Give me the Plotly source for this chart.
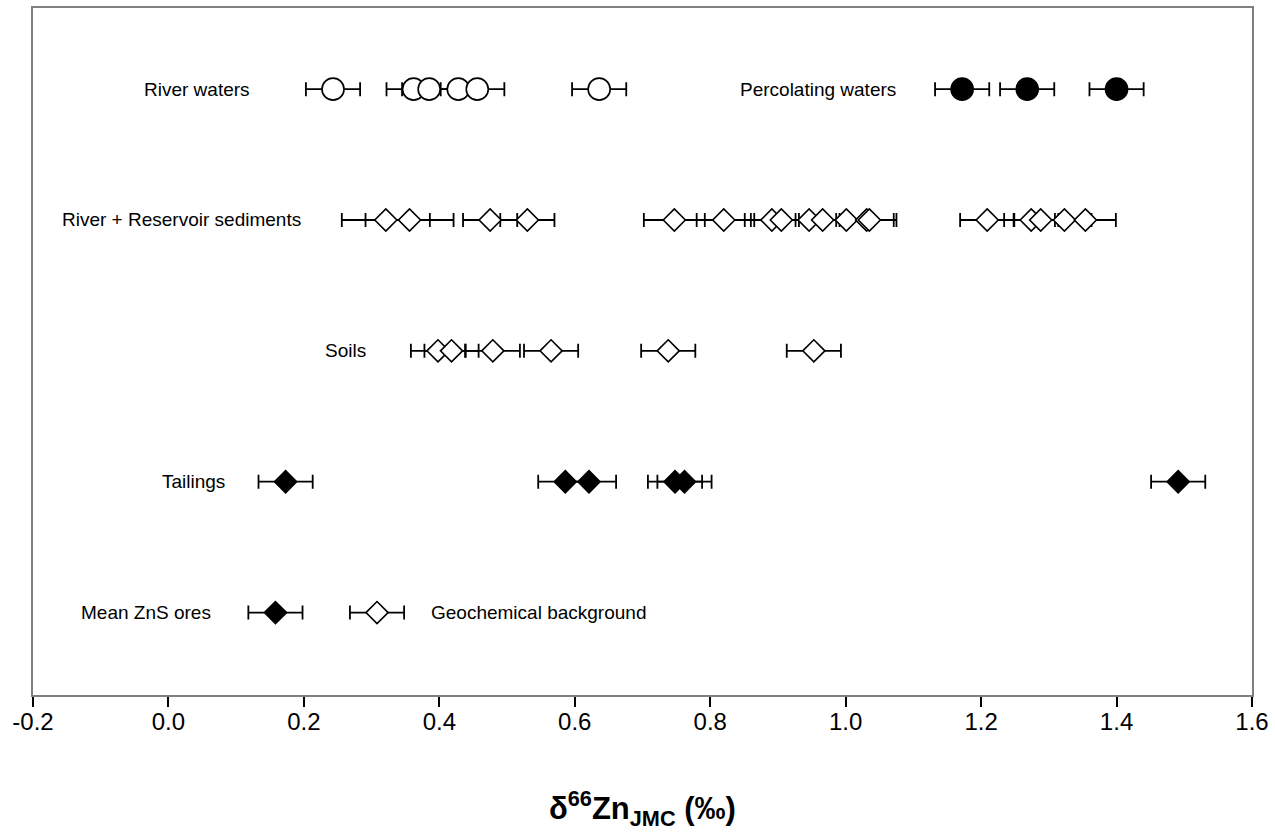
import plotly.graph_objects as go

# ---------------- data ----------------
river_waters = [0.243, 0.362, 0.385, 0.428, 0.456, 0.636]
river_waters_err = [0.04, 0.04, 0.04, 0.04, 0.04, 0.04]

percolating_waters = [1.172, 1.268, 1.400]
percolating_waters_err = [0.04, 0.04, 0.04]

sediments = [0.321, 0.356, 0.475, 0.530,
             0.747, 0.820, 0.891, 0.905, 0.946, 0.966, 1.001, 1.031, 1.035,
             1.209, 1.274, 1.288, 1.323, 1.354]
sediments_err = [0.065, 0.065, 0.04, 0.04,
                 0.045, 0.04, 0.04, 0.04, 0.04, 0.04, 0.04, 0.04, 0.04,
                 0.04, 0.04, 0.04, 0.04, 0.045]

soils = [0.398, 0.418, 0.479, 0.565, 0.738, 0.953]
soils_err = [0.04, 0.04, 0.04, 0.04, 0.04, 0.04]

tailings = [0.173, 0.586, 0.621, 0.748, 0.762, 1.491]
tailings_err = [0.04, 0.04, 0.04, 0.04, 0.04, 0.04]

mean_zns_ores = [0.158]
mean_zns_ores_err = [0.04]

geochemical_background = [0.308]
geochemical_background_err = [0.04]

row_levels = {"River waters": 5, "River + Reservoir sediments": 4,
              "Soils": 3, "Tailings": 2, "Mean ZnS ores": 1}

tick_vals = [-0.2, 0.0, 0.2, 0.4, 0.6, 0.8, 1.0, 1.2, 1.4, 1.6]
tick_text = ["-0.2", "0.0", "0.2", "0.4", "0.6", "0.8", "1.0", "1.2", "1.4", "1.6"]

# ---------------- figure ----------------
FONT = "Liberation Sans, Arial, sans-serif"
fig = go.Figure()


def add_series(xs, errs, level, symbol, fill, size):
    fig.add_trace(go.Scatter(
        x=xs, y=[level] * len(xs), mode="markers",
        marker=dict(symbol=symbol, size=size, color=fill,
                    line=dict(color="black", width=1.6)),
        error_x=dict(type="data", array=errs, visible=True,
                     color="black", thickness=1.8, width=7),
        showlegend=False, hoverinfo="x",
    ))


CIRCLE = 22
DIAMOND = 17
add_series(river_waters, river_waters_err, row_levels["River waters"], "circle", "white", CIRCLE)
add_series(percolating_waters, percolating_waters_err, row_levels["River waters"], "circle", "black", CIRCLE)
add_series(sediments, sediments_err, row_levels["River + Reservoir sediments"], "diamond", "white", DIAMOND)
add_series(soils, soils_err, row_levels["Soils"], "diamond", "white", DIAMOND)
add_series(tailings, tailings_err, row_levels["Tailings"], "diamond", "black", DIAMOND)
add_series(mean_zns_ores, mean_zns_ores_err, row_levels["Mean ZnS ores"], "diamond", "black", DIAMOND)
add_series(geochemical_background, geochemical_background_err, row_levels["Mean ZnS ores"], "diamond", "white", DIAMOND)

labels = [
    ("River waters", 0.124, row_levels["River waters"], "right"),
    ("Percolating waters", 1.077, row_levels["River waters"], "right"),
    ("River + Reservoir sediments", 0.198, row_levels["River + Reservoir sediments"], "right"),
    ("Soils", 0.294, row_levels["Soils"], "right"),
    ("Tailings", 0.087, row_levels["Tailings"], "right"),
    ("Mean ZnS ores", 0.066, row_levels["Mean ZnS ores"], "right"),
    ("Geochemical background", 0.384, row_levels["Mean ZnS ores"], "left"),
]
for text, x, y, anchor in labels:
    fig.add_annotation(x=x, y=y, xref="x", yref="y", text=text, showarrow=False,
                       xanchor=anchor, yanchor="middle",
                       font=dict(family=FONT, size=19, color="black"))

fig.add_annotation(x=0.5, y=-0.165, xref="paper", yref="paper",
                   text="<b>δ<sup>66</sup>Zn<sub>JMC</sub> (‰)</b>",
                   showarrow=False, xanchor="center", yanchor="middle",
                   font=dict(family=FONT, size=31, color="black"))

fig.update_layout(
    width=1275, height=838,
    margin=dict(l=33, r=23, t=6, b=143),
    paper_bgcolor="white", plot_bgcolor="white",
    font=dict(family=FONT, color="black"),
    xaxis=dict(range=[-0.2, 1.6], tickvals=tick_vals, ticktext=tick_text,
               showgrid=False, zeroline=False,
               showline=True, linecolor="#808080", linewidth=2, mirror=True,
               ticks="outside", ticklen=10, tickwidth=1.5, tickcolor="black",
               ticklabelstandoff=-6,
               tickfont=dict(family=FONT, size=24, color="black")),
    yaxis=dict(range=[0.37, 5.62], showticklabels=False, showgrid=False,
               zeroline=False, showline=True, linecolor="#808080",
               linewidth=2, mirror=True, ticks=""),
)

fig.write_html(
    "out.html",
    config={"displayModeBar": False},
    post_script="document.body.style.margin='0px';document.body.style.overflow='hidden';",
)
